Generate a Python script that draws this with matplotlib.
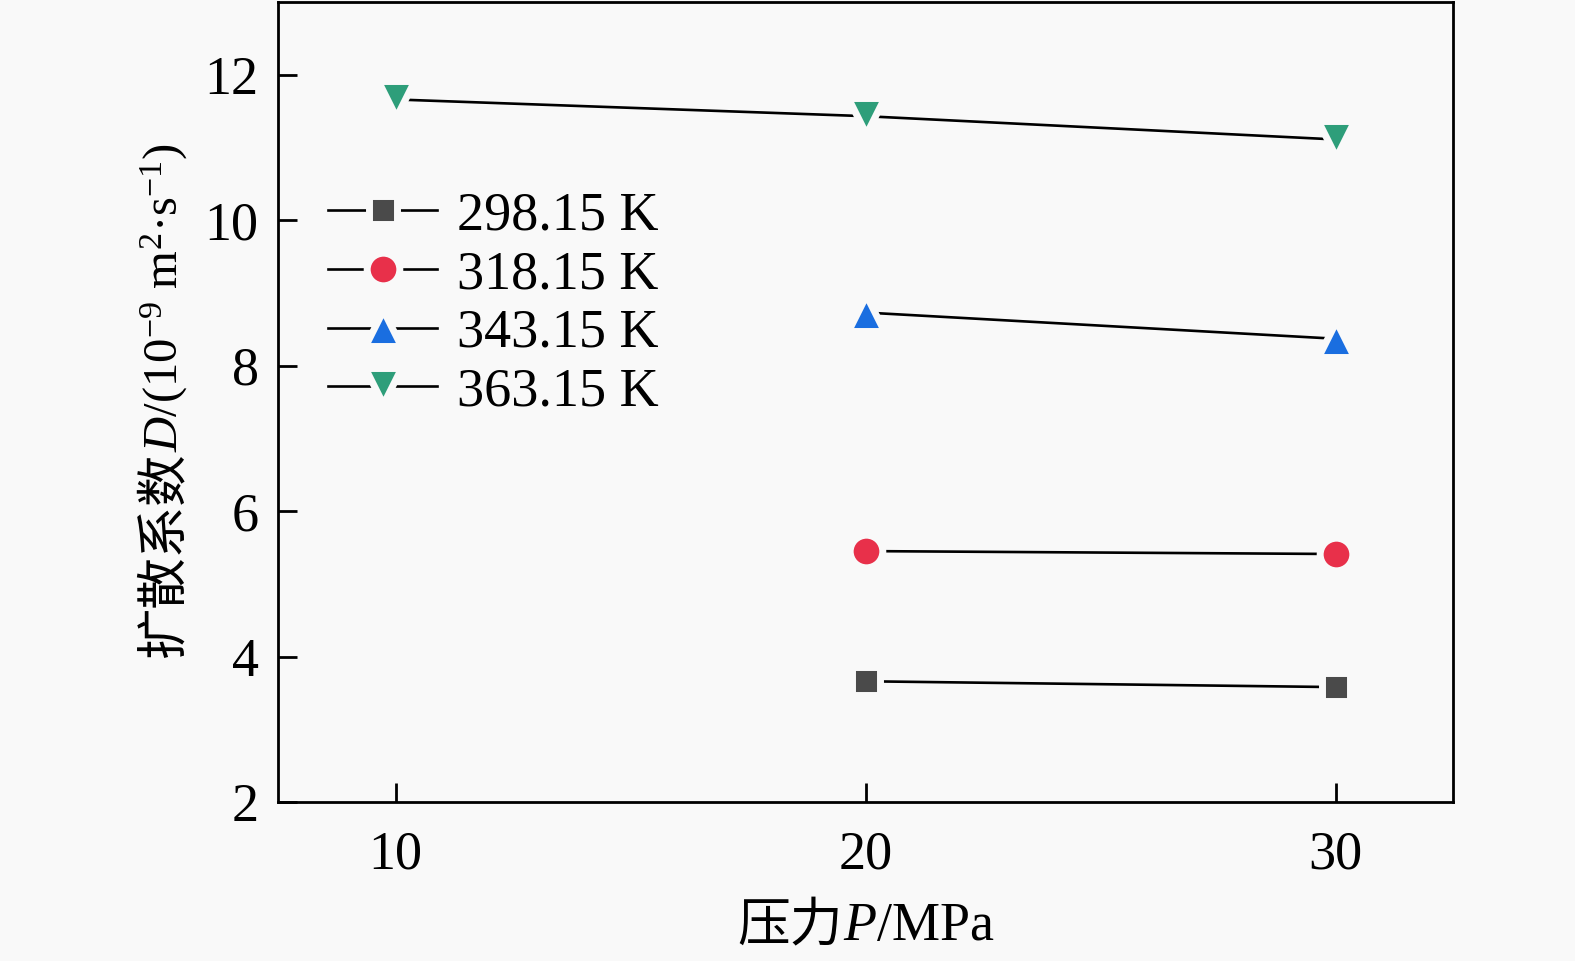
import matplotlib
matplotlib.use('Agg')
import matplotlib.pyplot as plt
from matplotlib.markers import MarkerStyle

plt.rcParams['font.family'] = ['Liberation Serif', 'Noto Sans CJK SC']
plt.rcParams['mathtext.fontset'] = 'custom'
plt.rcParams['mathtext.rm'] = 'Liberation Serif'
plt.rcParams['mathtext.it'] = 'Liberation Serif:italic'

# data
pressure = [10, 20, 30]
labels = ['298.15 K', '318.15 K', '343.15 K', '363.15 K']
d_298 = [None, 3.66, 3.58]
d_318 = [None, 5.45, 5.41]
d_343 = [None, 8.73, 8.37]
d_363 = [11.66, 11.43, 11.11]

series = [d_298, d_318, d_343, d_363]
markers = ['s', 'o', '^', 'v']
colors = ['#4a4a4a', '#e8304a', '#1a6ee0', '#2e9e7a']
sizes = [20.5, 23.5, 26.5, 26.5]

bg = '#f9f9f9'
W, H = 1575, 961

fig = plt.figure(figsize=(W/100, H/100), dpi=100, facecolor=bg)
ax = fig.add_axes([278/W, 1-802/H, 1175/W, 800/H])
ax.set_facecolor(bg)

for ys, m, c, s, lab in zip(series, markers, colors, sizes, labels):
    xs = [x for x, y in zip(pressure, ys) if y is not None]
    yv = [y for y in ys if y is not None]
    mk = MarkerStyle(m, joinstyle='round')
    ax.plot(xs, yv, '-', color='black', lw=1.9, zorder=1)
    ax.plot(xs, yv, linestyle='none', marker=mk, ms=s, mfc=c, mec=bg, mew=5, zorder=2)
    # legend handle
    ax.plot([], [], '-', color='black', lw=1.9, marker=mk, ms=s, mfc=c, mec=bg, mew=5, label=lab)

ax.set_xlim(7.5, 32.5)
ax.set_ylim(2, 13)
ax.set_xticks([10, 20, 30])
ax.set_yticks([2, 4, 6, 8, 10, 12])
ax.tick_params(direction='in', length=14, width=2, labelsize=39)
ax.tick_params(axis='x', pad=20)
ax.tick_params(axis='y', pad=14)
for sp in ax.spines.values():
    sp.set_linewidth(2)

leg = ax.legend(loc='upper left', bbox_to_anchor=(0.006, 0.818), frameon=False,
                fontsize=39, handlelength=2.0, handletextpad=0.38, labelspacing=0.15,
                borderpad=0.3)


def draw_pieces(pieces, cx, cy, rotation=0):
    # lay out text pieces along a baseline, centred at (cx, cy) in pixels
    renderer = fig.canvas.get_renderer()
    texts = []
    for s, kw in pieces:
        t = fig.text(0, 0, s, rotation=rotation, rotation_mode='anchor',
                     ha='left', va='baseline', **kw)
        texts.append(t)
    sizes_px = []
    for t in texts:
        bb = t.get_window_extent(renderer)
        sizes_px.append(bb.height if rotation else bb.width)
    pos = -sum(sizes_px) / 2
    for t, L in zip(texts, sizes_px):
        if rotation:
            t.set_position((cx / W, (cy + pos) / H))
        else:
            t.set_position(((cx + pos) / W, cy / H))
        pos += L


draw_pieces([('压力', dict(family='Noto Sans CJK SC', fontsize=38)),
             ('$P$/MPa', dict(fontsize=39))], 866, H - 940)
draw_pieces([('扩散系数', dict(family='Noto Sans CJK SC', fontsize=37)),
             ('$D$/(10$^{-9}$ m$^{2}$·s$^{-1}$)', dict(fontsize=35))], 178, H - 400, rotation=90)

fig.savefig('out.png', dpi=100, facecolor=fig.get_facecolor())
